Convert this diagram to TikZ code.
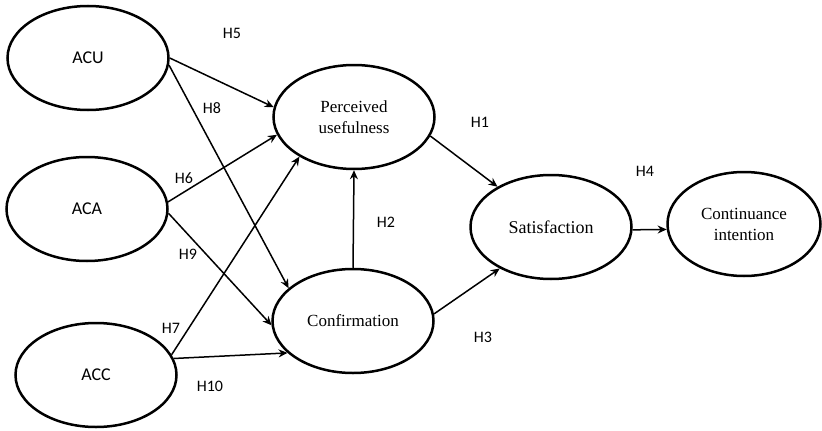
\documentclass[tikz,border=0pt]{standalone}
\usepackage{fontspec}
\setmainfont{Liberation Serif}
\newfontfamily\calibri{Carlito}
\usetikzlibrary{shapes.geometric,arrows.meta}

\begin{document}
\begin{tikzpicture}[x=1pt,y=-1pt,
  construct/.style={draw,ellipse,line width=2.5pt,inner sep=0pt,minimum width=161pt,minimum height=104pt,align=center,font=\fontsize{17}{21}\selectfont},
  latent/.style={construct,font=\calibri\fontsize{18}{21}\selectfont},
  hyp/.style={font=\calibri\fontsize{16}{18}\selectfont},
  link/.style={line width=1.5pt,-{Stealth[length=9pt,width=8pt]}}]
\useasboundingbox (0,0) rectangle (822,431);
% exogenous constructs
\node[latent] (acu) at (88,58) {ACU};
\node[latent] (aca) at (87,209) {ACA};
\node[latent] (acc) at (96,375) {ACC};
% model constructs
\node[construct] (pu) at (354,117) {Perceived\\usefulness};
\node[construct] (conf) at (353,321) {Confirmation};
\node[construct,font=\fontsize{18}{21}\selectfont] (sat) at (551,227) {Satisfaction};
\node[construct,minimum width=153pt] (ci) at (744,224) {Continuance\\intention};
% paths
\draw[link] (acu.east) -- (pu.173);
\draw[link] (acu.-5) -- (conf.153);
\draw[link] (aca.5) -- (pu.193);
\draw[link] (aca.-3) -- (conf.183);
\draw[link] (acc.15) -- (pu.216);
\draw[link] (acc.12) -- (conf.206);
\draw[link] (conf.north) -- (pu.south);
\draw[link] (pu.-14) -- (sat.143);
\draw[link] (conf.5) -- (sat.219);
\draw[link] (sat.-2) -- (ci.184);
% hypothesis labels
\node[hyp] (h5) at (232,33) {H5};
\node[hyp] (h8) at (212,108) {H8};
\node[hyp] (h6) at (184,178) {H6};
\node[hyp] (h9) at (188,254) {H9};
\node[hyp] (h7) at (171,328) {H7};
\node[hyp] (h10) at (210,386) {H10};
\node[hyp] (h2) at (386,222) {H2};
\node[hyp] (h1) at (480,122) {H1};
\node[hyp] (h3) at (483,337) {H3};
\node[hyp] (h4) at (645,171) {H4};
\end{tikzpicture}
\end{document}
